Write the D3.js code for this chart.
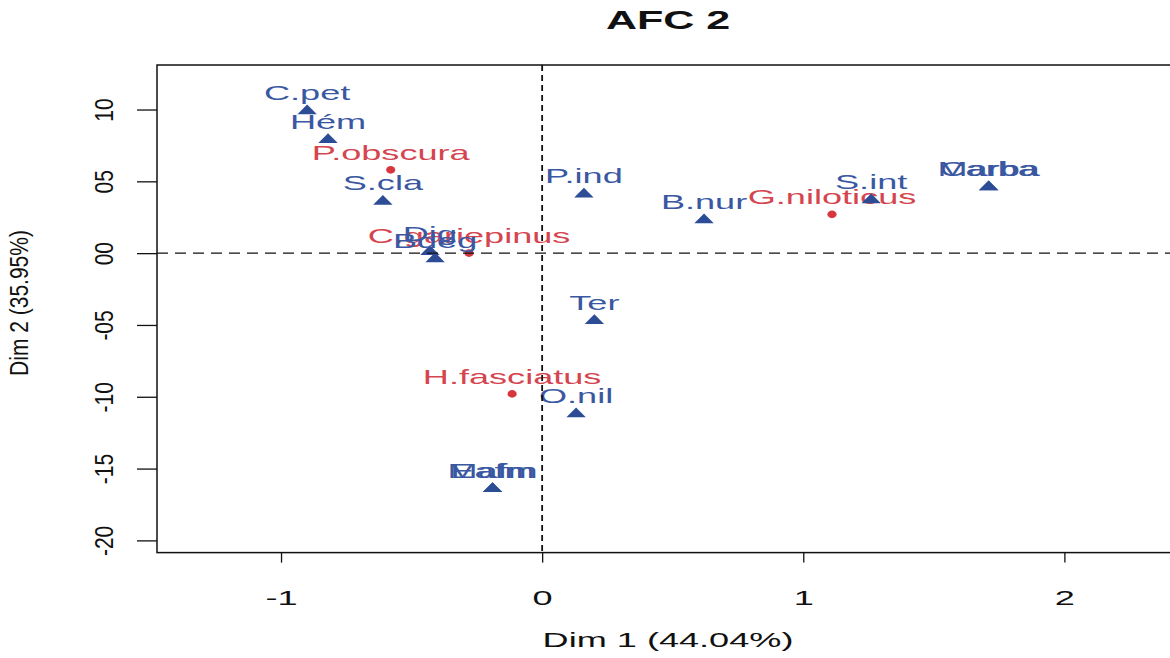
<!DOCTYPE html>
<html>
<head>
<meta charset="utf-8">
<script src="https://cdn.jsdelivr.net/npm/d3@7/dist/d3.min.js"></script>
<style>
  html, body { margin: 0; padding: 0; background: #ffffff; }
  svg { display: block; }
  text { font-family: "Liberation Sans", Arial, Helvetica, sans-serif; }
</style>
</head>
<body>
<svg id="chart" width="1170" height="658"></svg>
<script>
// Column points (blue triangles) of the correspondence analysis
const colLabels = ["C.pet", "Hém", "S.cla", "P.ind", "B.nur", "S.int", "Marba", "Carba",
                   "Dig", "Bdeg", "Ter", "O.nil", "Mafm", "Eafm"];
const colDim1 = [-0.90, -0.82, -0.61, 0.16, 0.62, 1.26, 1.71, 1.71,
                 -0.43, -0.41, 0.20, 0.13, -0.19, -0.19];
const colDim2 = [0.99, 0.79, 0.36, 0.41, 0.23, 0.37, 0.46, 0.46,
                 0.01, -0.04, -0.47, -1.12, -1.64, -1.64];

// Row points (red dots)
const rowLabels = ["P.obscura", "C.gariepinus", "G.niloticus", "H.fasciatus"];
const rowDim1 = [-0.58, -0.28, 1.11, -0.115];
const rowDim2 = [0.58, 0.0, 0.27, -0.98];

// Axis ticks
const xTicks = [-1, 0, 1, 2];
const xTickLabels = ["-1", "0", "1", "2"];
const yTicks = [1, 0.5, 0, -0.5, -1, -1.5, -2];
const yTickLabels = ["10", "05", "00", "-05", "-10", "-15", "-20"];

const title = "AFC 2";
const xTitle = "Dim 1 (44.04%)";
const yTitle = "Dim 2 (35.95%)";

const W = 1170, H = 658;
const box = { left: 157, top: 65, bottom: 552.6, right: 1208 };
const SX = 1.72;          // horizontal widening of the glyphs
const BLUE_TXT = "#3a58a2", BLUE_PT = "#2c4d96";
const RED_TXT = "#d5454f", RED_PT = "#d8363f";
const FS = 21;

const svg = d3.select("#chart");

const x = d3.scaleLinear().domain([-1.475, 2.55]).range([box.left, box.right]);
const y = d3.scaleLinear().domain([-2.085, 1.31]).range([box.bottom, box.top]);

// plot frame
svg.append("rect")
  .attr("x", box.left).attr("y", box.top)
  .attr("width", box.right - box.left).attr("height", box.bottom - box.top)
  .attr("fill", "none").attr("stroke", "#111").attr("stroke-width", 1.5);

// x axis
const gx = svg.append("g")
  .attr("transform", `translate(0,${box.bottom})`)
  .call(d3.axisBottom(x).tickValues(xTicks).tickSize(10).tickPadding(0)
        .tickFormat((d, i) => xTickLabels[i]));
gx.select(".domain").remove();
gx.selectAll(".tick line").attr("stroke", "#111").attr("stroke-width", 1.3);
gx.selectAll(".tick text")
  .attr("y", 0).attr("dy", 0)
  .attr("transform", `translate(0,52) scale(${SX},1)`)
  .attr("font-size", FS).attr("fill", "#111");

// y axis
const gy = svg.append("g")
  .attr("transform", `translate(${box.left},0)`)
  .call(d3.axisLeft(y).tickValues(yTicks).tickSize(20)
        .tickFormat((d, i) => yTickLabels[i]));
gy.select(".domain").remove();
gy.selectAll(".tick line").attr("stroke", "#111").attr("stroke-width", 1.3);
gy.selectAll(".tick text")
  .attr("x", 0).attr("y", 0).attr("dy", "0.36em")
  .attr("text-anchor", "middle")
  .attr("transform", `translate(-53,0) scale(1.2,1) rotate(-90)`)
  .attr("font-size", FS).attr("fill", "#111");

// titles
svg.append("text")
  .attr("transform", `translate(668,29) scale(${SX},1)`)
  .attr("text-anchor", "middle").attr("font-size", 25).attr("font-weight", "bold")
  .attr("fill", "#111").text(title);

svg.append("text")
  .attr("transform", `translate(668,647) scale(${SX},1)`)
  .attr("text-anchor", "middle").attr("font-size", FS).attr("fill", "#111")
  .text(xTitle);

svg.append("text")
  .attr("transform", `translate(28,303) scale(1.2,1) rotate(-90)`)
  .attr("text-anchor", "middle").attr("font-size", FS).attr("fill", "#111")
  .text(yTitle);

// row points
const rows = rowLabels.map((l, i) => ({ label: l, d1: rowDim1[i], d2: rowDim2[i] }));
const cols = colLabels.map((l, i) => ({ label: l, d1: colDim1[i], d2: colDim2[i] }));

svg.append("g").selectAll("ellipse").data(rows).join("ellipse")
  .attr("cx", d => x(d.d1)).attr("cy", d => y(d.d2))
  .attr("rx", 4.6).attr("ry", 3.8).attr("fill", RED_PT);

svg.append("g").selectAll("text").data(rows).join("text")
  .attr("transform", d => `translate(${x(d.d1)},${y(d.d2) - 10}) scale(${SX},1)`)
  .attr("text-anchor", "middle").attr("font-size", FS).attr("fill", RED_TXT)
  .text(d => d.label);

// column points
const tri = d3.symbol().type(d3.symbolTriangle).size(55);
svg.append("g").selectAll("path").data(cols).join("path")
  .attr("d", tri)
  .attr("transform", d => `translate(${x(d.d1)},${y(d.d2)}) scale(${SX},1)`)
  .attr("fill", BLUE_PT);

svg.append("g").selectAll("text").data(cols).join("text")
  .attr("transform", d => `translate(${x(d.d1)},${y(d.d2) - 11}) scale(${SX},1)`)
  .attr("text-anchor", "middle").attr("font-size", FS).attr("fill", BLUE_TXT)
  .text(d => d.label);

// reference lines through the origin
svg.append("line")
  .attr("x1", box.left).attr("x2", box.right)
  .attr("y1", y(0)).attr("y2", y(0))
  .attr("stroke", "#111").attr("stroke-width", 1.3).attr("stroke-dasharray", "11,7");
svg.append("line")
  .attr("x1", x(0)).attr("x2", x(0))
  .attr("y1", box.top).attr("y2", box.bottom)
  .attr("stroke", "#111").attr("stroke-width", 1.8).attr("stroke-dasharray", "6,4");
</script>
</body>
</html>
